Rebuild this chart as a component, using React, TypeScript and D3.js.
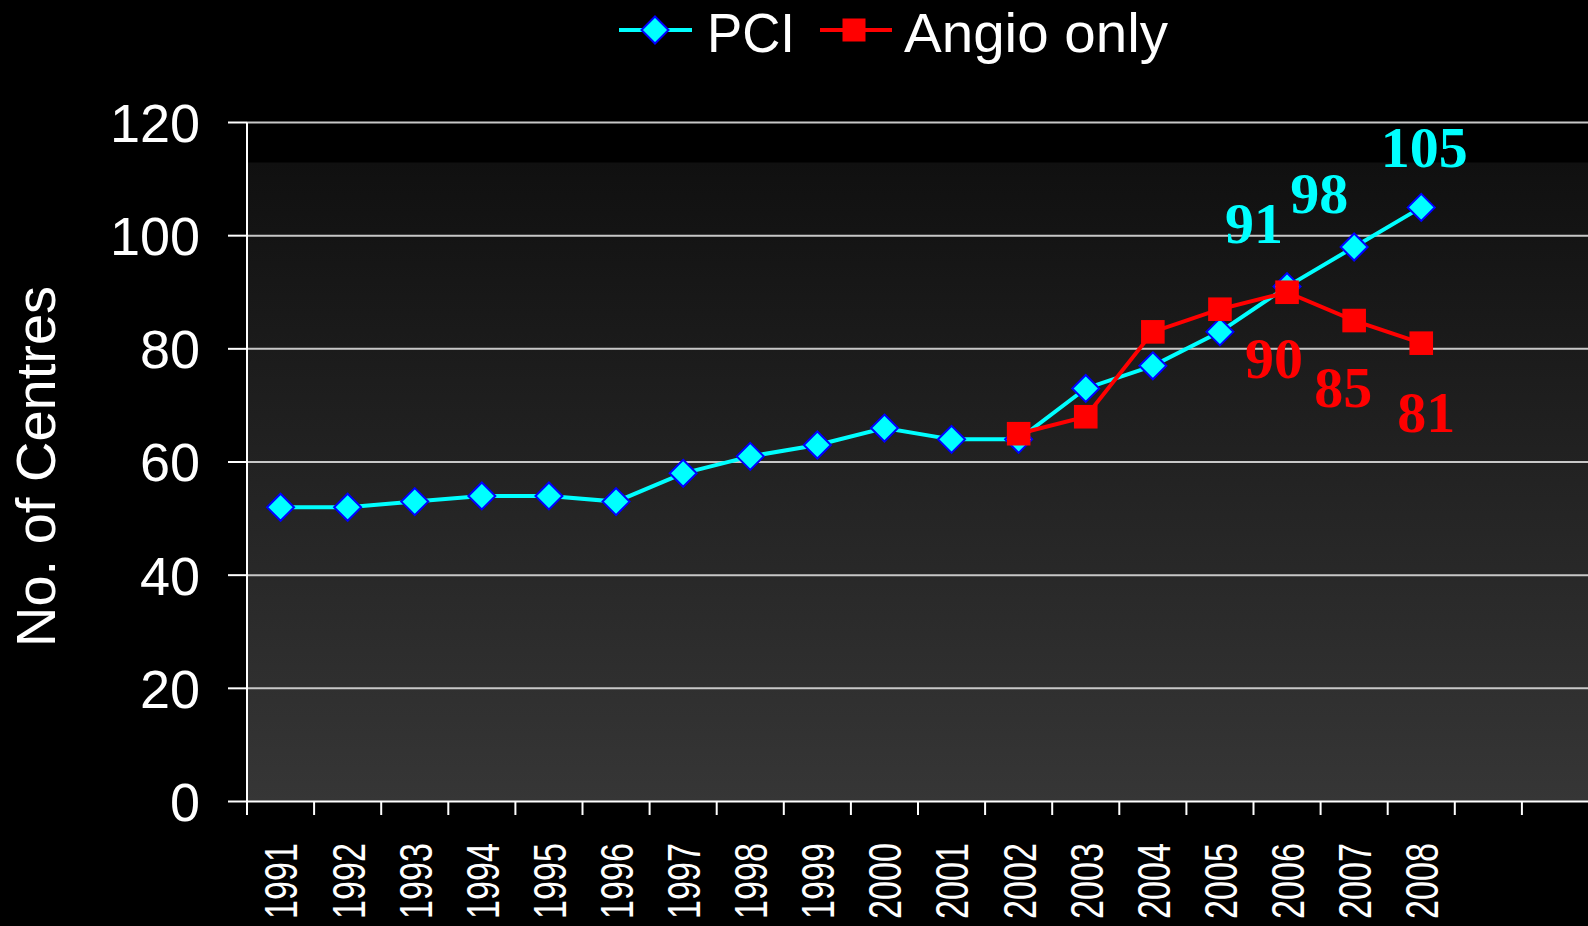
import React from "react";
import * as d3 from "d3";

const years = ["1991","1992","1993","1994","1995","1996","1997","1998","1999","2000","2001","2002","2003","2004","2005","2006","2007","2008"];
const slotCount = 20;
const pciValues = [52, 52, 53, 54, 54, 53, 58, 61, 63, 66, 64, 64, 73, 77, 83, 91, 98, 105];
// Angio only starts in 2002
const angioYears = ["2002","2003","2004","2005","2006","2007","2008"];
const angioValues = [65, 68, 83, 87, 90, 85, 81];
const yTicks = [0, 20, 40, 60, 80, 100, 120];

// labelled points: [year, value]
const pciLabels: [string, number][] = [["2006", 91], ["2007", 98], ["2008", 105]];
const angioLabels: [string, number][] = [["2006", 90], ["2007", 85], ["2008", 81]];
// label offsets (dx, dy) relative to point
const pciLabelOffsets = [[-33, -44], [-35, -34], [3, -40]];
const angioLabelOffsets = [[-13, 86], [-11, 86], [5, 89]];

const W = 1588, H = 926;
const L = 247, R = 1589, T = 122.5, B = 801.5;

export default function App() {
  const x = d3.scaleLinear().domain([0, slotCount]).range([L, R]);
  const y = d3.scaleLinear().domain([0, 120]).range([B, T]);
  const cx = (yr: string) => x(years.indexOf(yr) + 0.5);

  const line = d3.line<[number, number]>().x(d => d[0]).y(d => d[1]);
  const pciPts: [number, number][] = years.map((yr, i) => [cx(yr), y(pciValues[i])]);
  const angioPts: [number, number][] = angioYears.map((yr, i) => [cx(yr), y(angioValues[i])]);

  const diamond = (px: number, py: number, h: number) =>
    `M${px},${py - h}L${px + h},${py}L${px},${py + h}L${px - h},${py}Z`;

  const sans = "'Liberation Sans', Arial, sans-serif";
  const serif = "'Liberation Serif', 'Times New Roman', serif";
  const legY = 30;

  return (
    <svg width={W} height={H} style={{ position: "absolute", left: 0, top: 0, background: "#000" }}>
      <defs>
        <linearGradient id="bg" x1="0" y1="0" x2="0" y2="1">
          <stop offset="0" stopColor="#101010" />
          <stop offset="1" stopColor="#363636" />
        </linearGradient>
      </defs>
      <rect x={0} y={0} width={W} height={H} fill="#000" />
      <rect x={L} y={162.5} width={R - L} height={B - 162.5} fill="url(#bg)" />

      {/* gridlines + y ticks */}
      {yTicks.map(t => (
        <g key={t}>
          {t > 0 && <line x1={L} x2={R} y1={y(t)} y2={y(t)} stroke="#c8c8c8" strokeWidth={2} />}
          <line x1={228} x2={L} y1={y(t)} y2={y(t)} stroke="#fff" strokeWidth={2} />
          <text x={200} y={y(t)} dy="0.36em" textAnchor="end" fill="#fff" fontFamily={sans} fontSize={54}>{t}</text>
        </g>
      ))}

      {/* axes */}
      <line x1={L} x2={L} y1={T} y2={815} stroke="#fff" strokeWidth={2} />
      <line x1={L} x2={R} y1={B} y2={B} stroke="#fff" strokeWidth={2} />
      {d3.range(1, slotCount).map(i => (
        <line key={i} x1={x(i)} x2={x(i)} y1={B} y2={815} stroke="#fff" strokeWidth={2} />
      ))}

      {/* x labels */}
      {years.map(yr => (
        <text key={yr} transform={`translate(${cx(yr)},843) rotate(-90)`} dy="0.36em" textAnchor="end"
          fill="#fff" fontFamily={sans} fontSize={47} textLength={76} lengthAdjust="spacingAndGlyphs">{yr}</text>
      ))}

      {/* y title */}
      <text transform={`translate(55,466.5) rotate(-90)`} textAnchor="middle" fill="#fff" fontFamily={sans} fontSize={56}>No. of Centres</text>

      {/* series */}
      <path d={line(pciPts) || ""} fill="none" stroke="#00ffff" strokeWidth={4} />
      {pciPts.map((p, i) => (
        <path key={i} d={diamond(p[0], p[1], 13.5)} fill="#00ffff" stroke="#0000ff" strokeWidth={2} />
      ))}
      <path d={line(angioPts) || ""} fill="none" stroke="#ff0000" strokeWidth={4} />
      {angioPts.map((p, i) => (
        <rect key={i} x={p[0] - 11.8} y={p[1] - 11.8} width={23.6} height={23.6} fill="#ff0000" />
      ))}

      {/* data labels */}
      {pciLabels.map(([yr, v], i) => (
        <text key={"p" + yr} x={cx(yr) + pciLabelOffsets[i][0]} y={y(v) + pciLabelOffsets[i][1]} textAnchor="middle"
          fill="#00ffff" fontFamily={serif} fontWeight="bold" fontSize={58}>{v}</text>
      ))}
      {angioLabels.map(([yr, v], i) => (
        <text key={"a" + yr} x={cx(yr) + angioLabelOffsets[i][0]} y={y(v) + angioLabelOffsets[i][1]} textAnchor="middle"
          fill="#ff0000" fontFamily={serif} fontWeight="bold" fontSize={58}>{v}</text>
      ))}

      {/* legend */}
      <line x1={619} x2={692} y1={legY} y2={legY} stroke="#00ffff" strokeWidth={4} />
      <path d={diamond(655, legY, 13.5)} fill="#00ffff" stroke="#0000ff" strokeWidth={2} />
      <text x={707} y={52} fill="#fff" fontFamily={sans} fontSize={56} textLength={88} lengthAdjust="spacingAndGlyphs">PCI</text>
      <line x1={820} x2={892} y1={legY} y2={legY} stroke="#ff0000" strokeWidth={4} />
      <rect x={854 - 11.5} y={legY - 11.5} width={23} height={23} fill="#ff0000" />
      <text x={904} y={52} fill="#fff" fontFamily={sans} fontSize={56} textLength={264} lengthAdjust="spacingAndGlyphs">Angio only</text>
    </svg>
  );
}
